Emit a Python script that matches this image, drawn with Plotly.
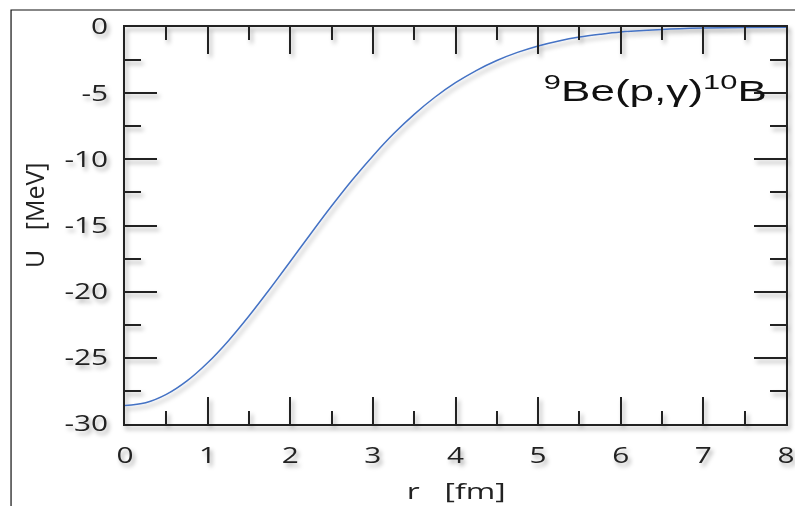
import plotly.graph_objects as go

# Radial distance r [fm] and potential depth U [MeV]
r_fm = [0.0, 0.25, 0.5, 0.75, 1.0, 1.25, 1.5, 1.75, 2.0, 2.25, 2.5, 2.75,
        3.0, 3.25, 3.5, 3.75, 4.0, 4.25, 4.5, 4.75, 5.0, 5.25, 5.5, 5.75,
        6.0, 6.5, 7.0, 7.5, 8.0]
u_mev = [-28.60, -28.39, -27.76, -26.74, -25.37, -23.72, -21.84, -19.82,
         -17.72, -15.60, -13.53, -11.56, -9.74, -8.07, -6.60, -5.31, -4.21,
         -3.29, -2.53, -1.92, -1.43, -1.05, -0.76, -0.55, -0.38, -0.18,
         -0.08, -0.03, -0.01]

x_ticks = [0, 1, 2, 3, 4, 5, 6, 7, 8]
x_ticktext = ["0", "1", "2", "3", "4", "5", "6", "7", "8"]
y_ticks = [0, -5, -10, -15, -20, -25, -30]
y_ticktext = ["0", "-5", "-10", "-15", "-20", "-25", "-30"]

reaction_label = "<sup>9</sup>Be(p,γ)<sup>10</sup>B"
x_title = "r   [fm]"
y_title = "U   [MeV]"

INK = "#222222"
TICK_FONT = dict(family="Open Sans", size=21, color=INK)

fig = go.Figure()
fig.add_trace(go.Scatter(
    x=r_fm, y=u_mev, mode="lines",
    line=dict(color="#4472C4", width=1.5, shape="spline", smoothing=1.0),
    hoverinfo="skip", showlegend=False,
))

axis_common = dict(
    showgrid=False, zeroline=False,
    showline=True, linecolor=INK, linewidth=1.5, mirror="ticks",
    ticks="inside", tickcolor=INK, tickwidth=1.5,
    tickfont=TICK_FONT, ticklabeloverflow="allow",
)

fig.update_xaxes(
    **axis_common, range=[0, 8], tickvals=x_ticks, ticktext=x_ticktext, ticklen=27,
    minor=dict(dtick=0.5, ticks="inside", ticklen=13, tickcolor=INK, tickwidth=1.5),
    ticklabelstandoff=12,
)
fig.update_yaxes(
    **axis_common, range=[-30, 0], tickvals=y_ticks, ticktext=y_ticktext, ticklen=32,
    minor=dict(dtick=2.5, ticks="inside", ticklen=16, tickcolor=INK, tickwidth=1.5),
    ticklabelstandoff=11,
)

# Outer frame around the figure
fig.add_shape(type="rect", xref="paper", yref="paper",
              x0=-0.1724, x1=1.2, y0=-0.5, y1=1.0428,
              line=dict(color="#111111", width=1.2), layer="below")

fig.add_annotation(text=reaction_label, xref="x", yref="y", x=6.42, y=-4.7,
                   xanchor="center", yanchor="middle", showarrow=False,
                   font=dict(family="Liberation Sans", size=29, color="#111111"))
fig.add_annotation(text=x_title, xref="paper", yref="paper", x=0.5, y=-0.165,
                   xanchor="center", yanchor="middle", showarrow=False,
                   font=dict(family="Open Sans", size=22, color=INK))
fig.add_annotation(text=y_title, xref="paper", yref="paper", x=-0.138, y=0.526,
                   xanchor="center", yanchor="middle", showarrow=False, textangle=-90,
                   font=dict(family="Open Sans", size=25, color=INK))

fig.update_layout(
    width=795, height=506,
    margin=dict(l=125, r=3, t=27, b=82),
    paper_bgcolor="white", plot_bgcolor="rgba(0,0,0,0)",
)

# Wide lettering for the horizontal labels and a soft drop shadow under
# the axes, the curve and the text.
post_js = r"""
var gd = document.getElementById('{plot_id}');
var ns = 'http://www.w3.org/2000/svg';
function widen(nodes, s, anchor) {
  nodes.forEach(function (t) {
    var b = t.getBBox();
    var cx = anchor === 'end' ? b.x + b.width : b.x + b.width / 2;
    var cy = b.y + b.height / 2;
    var tr = t.getAttribute('transform') || '';
    t.setAttribute('transform', tr + ' translate(' + cx + ',' + cy + ') scale(' + s + ',1) translate(' + (-cx) + ',' + (-cy) + ')');
  });
}
widen(gd.querySelectorAll('g.xtick text'), 1.42, 'middle');
widen(gd.querySelectorAll('g.ytick text'), 1.42, 'end');
var ann = gd.querySelectorAll('g.annotation');
ann.forEach(function (a) {
  var i = a.getAttribute('data-index');
  if (i === '0') widen(a.querySelectorAll('text.annotation-text'), 1.52, 'middle');
  if (i === '1') widen(a.querySelectorAll('text.annotation-text'), 1.45, 'middle');
});
var svg = gd.querySelector('svg.main-svg');
var defs = svg.querySelector('defs') || svg.insertBefore(document.createElementNS(ns, 'defs'), svg.firstChild);
var f = document.createElementNS(ns, 'filter');
f.setAttribute('id', 'soft-drop');
f.setAttribute('filterUnits', 'userSpaceOnUse');
f.setAttribute('x', '-20'); f.setAttribute('y', '-20');
f.setAttribute('width', '840'); f.setAttribute('height', '560');
var d = document.createElementNS(ns, 'feDropShadow');
d.setAttribute('dx', '2.5'); d.setAttribute('dy', '3.5');
d.setAttribute('stdDeviation', '2');
d.setAttribute('flood-color', '#000000'); d.setAttribute('flood-opacity', '0.33');
f.appendChild(d); defs.appendChild(f);
['.cartesianlayer', '.infolayer'].forEach(function (sel) {
  var g = svg.querySelector(sel);
  if (g) g.setAttribute('filter', 'url(#soft-drop)');
});
"""

fig.write_html("out.html", post_script=post_js)
